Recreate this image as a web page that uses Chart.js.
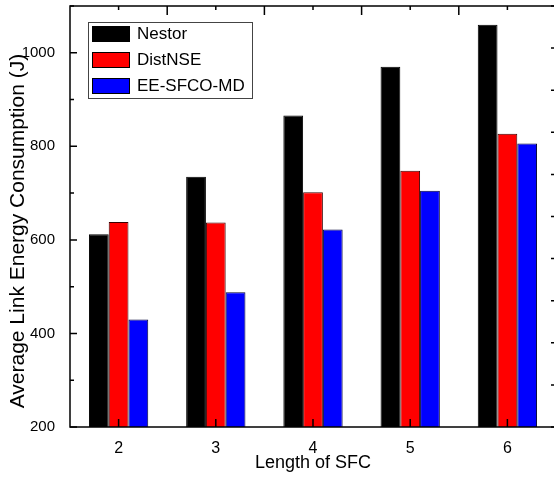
<!DOCTYPE html>
<html lang="en">
<head>
  <meta charset="UTF-8">
  <script src="https://cdn.jsdelivr.net/npm/chart.js@4"></script>
  <title>Average Link Energy Consumption</title>
  <style>
    html, body { margin: 0; padding: 0; background: #fff; overflow: hidden; }
    .chart-box { width: 560px; height: 477px; }
  </style>
</head>
<body>

<div class="chart-box"><canvas id="chart"></canvas></div>

<script>
// values
const sfcLengths = ['2', '3', '4', '5', '6'];
const nestor   = [612, 735, 866, 970, 1060];
const distNSE  = [638, 637, 702, 748, 827];
const eeSfcoMd = [430, 488, 622, 705, 806];
const yTickLabels = [200, 400, 600, 800, 1000];

const family = "'Liberation Sans', Arial, sans-serif";

// Origin style frame: box around the plot, ticks pointing inward, legend with a border
const framePlugin = {
  id: 'frame',
  afterDraw(chart) {
    const ctx = chart.ctx;
    const a = chart.chartArea;
    const xs = chart.scales.x;
    const ys = chart.scales.y;
    ctx.save();
    ctx.strokeStyle = '#000';
    ctx.lineWidth = 1.5;
    ctx.strokeRect(a.left, a.top, a.right - a.left, a.bottom - a.top);

    ctx.beginPath();
    // left ticks
    for (let v = ys.min; v <= ys.max; v += 100) {
      const py = ys.getPixelForValue(v);
      const len = v % 200 === 0 ? 7 : 4;
      ctx.moveTo(a.left, py); ctx.lineTo(a.left + len, py);
    }
    // right ticks (own scale in the original, 10 steps)
    for (let k = 0; k <= 10; k++) {
      const py = ys.getPixelForValue(ys.min + (ys.max - ys.min) * k / 10);
      ctx.moveTo(a.right, py); ctx.lineTo(a.right - 5, py);
    }
    // bottom / top ticks
    sfcLengths.forEach((lab, i) => {
      const px = xs.getPixelForValue(i);
      ctx.moveTo(px, a.bottom); ctx.lineTo(px, a.bottom - 8);
      ctx.moveTo(px, a.top); ctx.lineTo(px, a.top + 4);
      if (i < sfcLengths.length - 1) {
        const mid = (px + xs.getPixelForValue(i + 1)) / 2;
        ctx.moveTo(mid, a.top); ctx.lineTo(mid, a.top + 9);
      }
    });
    ctx.stroke();

    // legend
    const lx = a.left + 18, ly = a.top + 16;
    ctx.lineWidth = 1;
    ctx.strokeStyle = '#444';
    ctx.strokeRect(lx + 0.5, ly + 0.5, 164, 76);
    ctx.font = '17px ' + family;
    ctx.textBaseline = 'middle';
    chart.data.datasets.forEach((ds, i) => {
      const sy = ly + 4 + i * 26;
      ctx.fillStyle = ds.backgroundColor;
      ctx.fillRect(lx + 4, sy, 38, 16);
      ctx.strokeStyle = '#000';
      ctx.strokeRect(lx + 4.5, sy + 0.5, 37, 15);
      ctx.fillStyle = '#000';
      ctx.fillText(ds.label, lx + 49, sy + 8.5);
    });
    ctx.restore();
  }
};

const data = {
  labels: sfcLengths,
  datasets: [
    { label: 'Nestor',     data: nestor,   backgroundColor: '#000000', borderColor: '#000000', borderWidth: 1 },
    { label: 'DistNSE',    data: distNSE,  backgroundColor: '#ff0000', borderColor: '#3a0000', borderWidth: 1 },
    { label: 'EE-SFCO-MD', data: eeSfcoMd, backgroundColor: '#0000ff', borderColor: '#000033', borderWidth: 1 }
  ]
};

const config = {
  type: 'bar',
  data: data,
  options: {
    responsive: true,
    maintainAspectRatio: false,
    animation: false,
    devicePixelRatio: 1,
    layout: { padding: { top: 6, right: 4, left: 0, bottom: 0 } },
    datasets: {
      bar: { barPercentage: 1, categoryPercentage: 0.61 }
    },
    plugins: {
      legend: { display: false },
      tooltip: { enabled: false }
    },
    scales: {
      x: {
        grid: { display: false },
        border: { display: false },
        ticks: { color: '#000', padding: 4, font: { family: family, size: 16 } },
        title: {
          display: true,
          text: 'Length of SFC',
          color: '#000',
          font: { family: family, size: 18 },
          padding: { top: 0, bottom: 3 }
        },
        afterFit(scale) {
          scale.height = 50;
          scale.paddingLeft = 0;
          scale.paddingRight = 0;
        }
      },
      y: {
        min: 200,
        max: 1100,
        grid: { display: false },
        border: { display: false },
        ticks: {
          stepSize: 100,
          color: '#000',
          padding: 7,
          font: { family: family, size: 15 },
          callback: (v) => yTickLabels.includes(v) ? v : ''
        },
        title: {
          display: true,
          text: 'Average Link Energy Consumption (J)\u00a0\u00a0\u00a0\u00a0\u00a0',
          color: '#000',
          font: { family: family, size: 21 },
          padding: { top: 6, bottom: 0 }
        },
        afterFit(scale) {
          scale.width = 70;
          scale.paddingTop = 0;
          scale.paddingBottom = 0;
        }
      }
    }
  },
  plugins: [framePlugin]
};

new Chart(document.getElementById('chart'), config);
</script>
</body>
</html>
